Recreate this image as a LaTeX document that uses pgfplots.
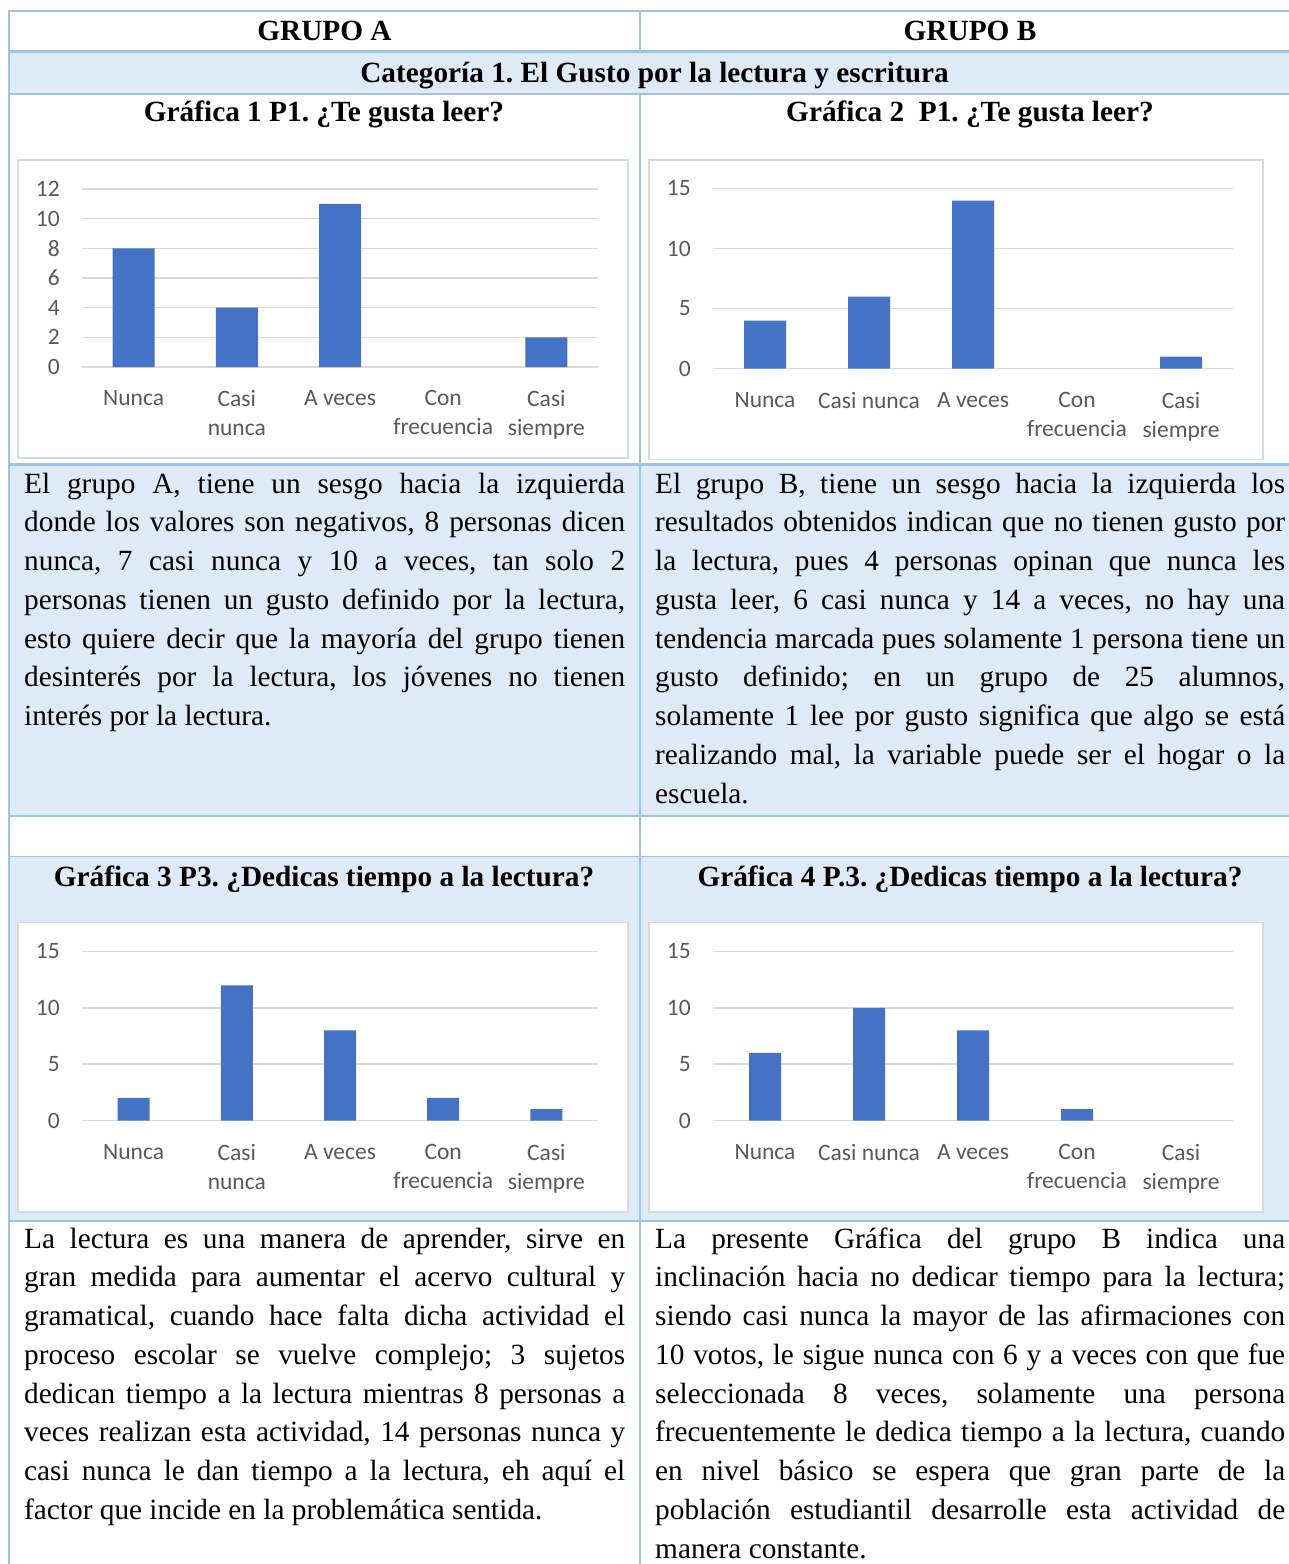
\documentclass[border=0pt]{standalone}
\usepackage{fontspec}
\setmainfont{Liberation Serif}
\newfontfamily\chartfont{Carlito}
\usepackage{pgfplots}
\pgfplotsset{compat=1.18}
\frenchspacing
\definecolor{tblue}{RGB}{156,194,229}
\definecolor{rowblue}{RGB}{222,234,246}
\definecolor{framegray}{RGB}{217,217,217}
\definecolor{gridgray}{RGB}{217,217,217}
\definecolor{barblue}{RGB}{68,114,196}
\definecolor{labelgray}{RGB}{89,89,89}
\newcommand\bodyfont{\fontsize{29.3}{38.75}\selectfont}
\newcommand\jl[4]{\node[anchor=base west,inner sep=0pt,font=\bodyfont] at (#1,#2) {\makebox[#3pt][s]{#4}};}
\newcommand\lastl[3]{\node[anchor=base west,inner sep=0pt,font=\bodyfont] at (#1,#2) {#3};}
\newcommand\ttl[3]{\node[anchor=base,inner sep=0pt,font=\bodyfont\bfseries] at (#1,#2) {#3};}
\pgfplotsset{
 mychart/.style={
  scale only axis, anchor=south west, ybar,
  xmin=-0.5, xmax=4.5, ymin=0, enlargelimits=false,
  xtick={0,1,2,3,4},
  axis line style={draw=none}, major tick style={draw=none},
  ymajorgrids, grid style={draw=gridgray, line width=1.6pt},
  tick label style={font=\chartfont\fontsize{23.5}{29}\selectfont, text=labelgray},
  /pgf/number format/assume math mode=true,
  yticklabel style={inner sep=0pt, anchor=east, xshift=-22pt},
  xticklabel style={inner sep=0pt, anchor=north, yshift=-19pt, align=center},
  clip=false, unbounded coords=discard,
 },
 zerohide/.style={y filter/.expression={y==0 ? nan : y}},
}
\begin{document}
\begin{tikzpicture}
\begin{scope}[x=1pt,y=-1pt]
\path[use as bounding box] (0,0) rectangle (1289,1564);
% row fills
\fill[rowblue] (9,51.5) rectangle (1289,94);
\fill[rowblue] (9,464.5) rectangle (1289,816);
\fill[rowblue] (9,856.5) rectangle (1289,1221);
% table lines
\draw[tblue,line width=1.5pt] (9,11) -- (1289,11);
\draw[tblue,line width=3pt] (9,51.5) -- (1289,51.5);
\draw[tblue,line width=1.5pt] (9,94) -- (1289,94);
\draw[tblue,line width=3pt] (9,464.5) -- (1289,464.5);
\draw[tblue,line width=1.5pt] (9,816) -- (1289,816);
\draw[tblue,line width=1.5pt] (9,856.5) -- (1289,856.5);
\draw[tblue,line width=2.5pt] (9,1221) -- (1289,1221);
\draw[tblue,line width=1.5pt] (9,10.25) -- (9,1564);
\draw[tblue,line width=1.5pt] (640,10.25) -- (640,51.5);
\draw[tblue,line width=1.5pt] (640,94) -- (640,1564);
% chart frames
\draw[framegray,fill=white,line width=1.5pt] (18,160) rectangle (628,458);
\draw[framegray,fill=white,line width=1.5pt] (649,160) rectangle (1263,459.5);
\draw[framegray,fill=white,line width=1.5pt] (18,922.5) rectangle (628,1212);
\draw[framegray,fill=white,line width=1.5pt] (649,922.5) rectangle (1263,1212);
% headings
\ttl{324.5}{40}{GRUPO A}
\ttl{970}{40}{GRUPO B}
\ttl{654.5}{82}{Categoría 1. El Gusto por la lectura y escritura}
\ttl{324}{121}{Gráfica 1 P1. ¿Te gusta leer?}
\ttl{970}{121}{Gráfica 2\ \ P1. ¿Te gusta leer?}
\ttl{324}{886}{Gráfica 3 P3. ¿Dedicas tiempo a la lectura?}
\ttl{970}{886}{Gráfica 4 P.3. ¿Dedicas tiempo a la lectura?}
% text block 1 left
\jl{24}{493}{601}{El grupo A, tiene un sesgo hacia la izquierda}
\jl{24}{531.75}{601}{donde los valores son negativos, 8 personas dicen}
\jl{24}{570.5}{601}{nunca, 7 casi nunca y 10 a veces, tan solo 2}
\jl{24}{609.25}{601}{personas tienen un gusto definido por la lectura,}
\jl{24}{648}{601}{esto quiere decir que la mayoría del grupo tienen}
\jl{24}{686.75}{601}{desinterés por la lectura, los jóvenes no tienen}
\lastl{24}{725.5}{interés por la lectura.}
% text block 1 right
\jl{655}{493}{630}{El grupo B, tiene un sesgo hacia la izquierda los}
\jl{655}{531.75}{630}{resultados obtenidos indican que no tienen gusto por}
\jl{655}{570.5}{630}{la lectura, pues 4 personas opinan que nunca les}
\jl{655}{609.25}{630}{gusta leer, 6 casi nunca y 14 a veces, no hay una}
\jl{655}{648}{630}{tendencia marcada pues solamente 1 persona tiene un}
\jl{655}{686.75}{630}{gusto definido; en un grupo de 25 alumnos,}
\jl{655}{725.5}{630}{solamente 1 lee por gusto significa que algo se está}
\jl{655}{764.25}{630}{realizando mal, la variable puede ser el hogar o la}
\lastl{655}{803}{escuela.}
% text block 2 left
\jl{24}{1248}{601}{La lectura es una manera de aprender, sirve en}
\jl{24}{1286.75}{601}{gran medida para aumentar el acervo cultural y}
\jl{24}{1325.5}{601}{gramatical, cuando hace falta dicha actividad el}
\jl{24}{1364.25}{601}{proceso escolar se vuelve complejo; 3 sujetos}
\jl{24}{1403}{601}{dedican tiempo a la lectura mientras 8 personas a}
\jl{24}{1441.75}{601}{veces realizan esta actividad, 14 personas nunca y}
\jl{24}{1480.5}{601}{casi nunca le dan tiempo a la lectura, eh aquí el}
\lastl{24}{1519.25}{factor que incide en la problemática sentida.}
% text block 2 right
\jl{655}{1248}{630}{La presente Gráfica del grupo B indica una}
\jl{655}{1286.75}{630}{inclinación hacia no dedicar tiempo para la lectura;}
\jl{655}{1325.5}{630}{siendo casi nunca la mayor de las afirmaciones con}
\jl{655}{1364.25}{630}{10 votos, le sigue nunca con 6 y a veces con que fue}
\jl{655}{1403}{630}{seleccionada 8 veces, solamente una persona}
\jl{655}{1441.75}{630}{frecuentemente le dedica tiempo a la lectura, cuando}
\jl{655}{1480.5}{630}{en nivel básico se espera que gran parte de la}
\jl{655}{1519.25}{630}{población estudiantil desarrolle esta actividad de}
\lastl{655}{1558}{manera constante.}
\end{scope}

% Chart 1
\begin{axis}[mychart, at={(82pt,-367pt)}, width=516pt, height=178pt,
  ymax=12, ytick={0,2,4,6,8,10,12}, bar width=42pt,
  xticklabels={Nunca,{Casi\\nunca},{A veces},{Con\\frecuencia},{Casi\\siempre}}]
\addplot[draw=none, fill=barblue, zerohide] coordinates {(0,8) (1,4) (2,11) (3,0) (4,2)};
\end{axis}
% Chart 2
\begin{axis}[mychart, at={(713pt,-368.5pt)}, width=520pt, height=180pt,
  ymax=15, ytick={0,5,10,15}, bar width=42pt,
  xticklabels={Nunca,{Casi nunca},{A veces},{Con\\frecuencia},{Casi\\siempre}}]
\addplot[draw=none, fill=barblue, zerohide] coordinates {(0,4) (1,6) (2,14) (3,0) (4,1)};
\end{axis}
% Chart 3
\begin{axis}[mychart, at={(82pt,-1120.5pt)}, width=516pt, height=169pt,
  ymax=15, ytick={0,5,10,15}, bar width=32pt,
  xticklabels={Nunca,{Casi\\nunca},{A veces},{Con\\frecuencia},{Casi\\siempre}}]
\addplot[draw=none, fill=barblue, zerohide] coordinates {(0,2) (1,12) (2,8) (3,2) (4,1)};
\end{axis}
% Chart 4
\begin{axis}[mychart, at={(713pt,-1120.5pt)}, width=520pt, height=169pt,
  ymax=15, ytick={0,5,10,15}, bar width=32pt,
  xticklabels={Nunca,{Casi nunca},{A veces},{Con\\frecuencia},{Casi\\siempre}}]
\addplot[draw=none, fill=barblue, zerohide] coordinates {(0,6) (1,10) (2,8) (3,1) (4,0)};
\end{axis}
\end{tikzpicture}
\end{document}
